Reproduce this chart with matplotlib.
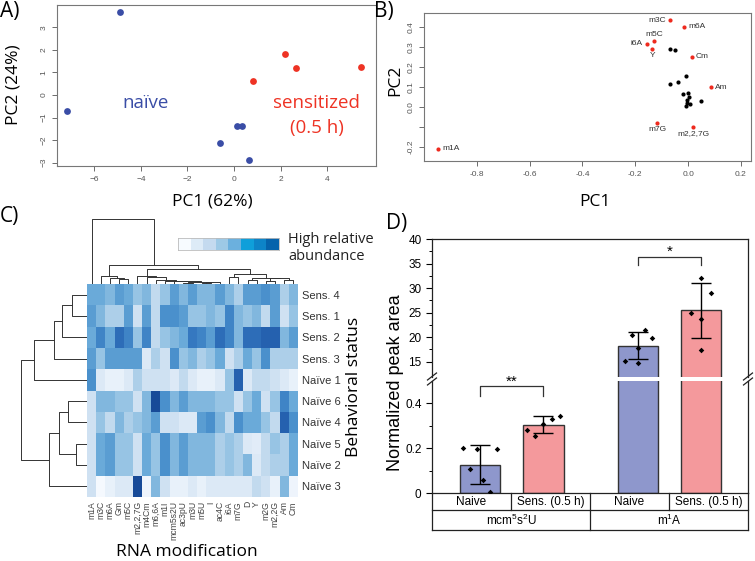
import matplotlib
matplotlib.use("Agg")
import matplotlib.pyplot as plt
import numpy as np
from matplotlib.colors import ListedColormap, LinearSegmentedColormap
from matplotlib.lines import Line2D

# ---------------- data ----------------
# A) PCA of samples
naive_pc1 = [-4.88, -7.15, 0.12, 0.35, -0.58, 0.66]
naive_pc2 = [3.69, -0.71, -1.37, -1.37, -2.13, -2.87]
sens_pc1 = [0.80, 2.21, 2.66, 5.44]
sens_pc2 = [0.62, 1.80, 1.18, 1.24]

# B) loadings
mod_names = ['m3C', 'm6A', 'm5C', 'i6A', 'Y', 'Cm', 'Am', 'm7G', 'm2,2,7G', 'm1A']
mod_pc1 = [-0.069, -0.015, -0.130, -0.156, -0.136, 0.014, 0.086, -0.117, 0.019, -0.946]
mod_pc2 = [0.433, 0.400, 0.330, 0.317, 0.290, 0.250, 0.098, -0.080, -0.100, -0.208]
mod_label_side = ['left', 'right', 'top', 'left', 'bottom', 'right', 'right',
                  'bottom', 'bottom', 'right']
other_pc1 = [-0.069, -0.049, -0.008, -0.037, -0.069, -0.018, 0.000, 0.004,
             -0.006, -0.004, 0.007, -0.008, 0.048]
other_pc2 = [0.290, 0.283, 0.153, 0.123, 0.113, 0.063, 0.072, 0.050,
             0.033, 0.020, 0.013, 0.003, 0.030]

# C) heatmap
col_mods = ['m1A', 'm3C', 'm6A', 'Gm', 'm5C', 'm2,2,7G', 'm4Cm', 'm6,6A', 'm1I',
            'mcm5s2U', 'ac3pU', 'm3U', 'm5U', 'I', 'ac4C', 'i6A', 'm7G', 'D', 'Y',
            'm2G', 'm2,2G', 'Am', 'Cm']
row_status = ['Sens. 4', 'Sens. 1', 'Sens. 2', 'Sens. 3', 'Naïve 1', 'Naïve 6',
              'Naïve 4', 'Naïve 5', 'Naïve 2', 'Naïve 3']
abundance = np.array([
    [4, 4, 3.5, 4.5, 4, 3, 3.5, 2, 3, 4.5, 3.5, 4.5, 3.5, 3.5, 4.5, 3.5, 2.5, 4.5, 4.5, 5, 4.5, 2.5, 3.5],
    [4.5, 3.5, 2.5, 2.5, 4.5, 1.5, 4.5, 2, 5, 5, 4.5, 3, 3, 3.5, 3, 5.5, 3.5, 3, 3.5, 2, 4.5, 1.5, 3],
    [4, 5.5, 4, 6.5, 5.5, 3, 5.5, 2, 3, 3.5, 4, 6, 5.5, 4.5, 6.5, 5.5, 3.5, 6.5, 6.5, 7, 7, 3.5, 4.5],
    [4.5, 3, 4.5, 4.5, 4.5, 4.5, 1, 2.5, 1.5, 5, 3, 3.5, 2.5, 3, 4, 1.5, 2.5, 4, 3, 5, 2.5, 2.5, 2.5],
    [5, 1, 0.5, 0.5, 1, 2.5, 1.5, 1.5, 1.5, 1, 2, 1, 0.5, 0.5, 1, 3, 7, 1, 2, 2, 1.5, 1, 0.5],
    [1.5, 3.5, 3.5, 3, 3, 1.5, 3.5, 8, 5, 3.5, 4.5, 3.5, 3.5, 3.5, 3, 3, 1.5, 3, 4, 1.5, 3, 5.5, 4],
    [1.5, 3, 2, 3.5, 2.5, 3, 3.5, 4.5, 1.5, 1.5, 1, 1, 4.5, 5, 3.5, 2, 5, 4, 4, 3, 2, 7, 5],
    [1.5, 4, 4.5, 3, 3, 1.5, 4, 3, 5, 3.5, 4.5, 3.5, 3.5, 3.5, 2.5, 3, 2.5, 1, 0.8, 2, 3, 2.5, 4],
    [1.5, 4, 4.5, 3, 3, 1.5, 4, 3, 5, 3.5, 4.5, 3.5, 3.5, 3.5, 2.5, 3, 2.5, 3.5, 1, 2, 2.5, 2.5, 4],
    [1.5, 0, 0.5, 1, 1, 8, 0.3, 3.5, 1.5, 0.5, 0.5, 1, 0.5, 1, 1, 1, 1, 1, 2, 1.5, 0.5, 3.5, 0.3],
])
# dendrograms: (left, right, height)
row_tree = (((((0, 1, 15), 2, 25), 3, 33), 4, 53),
            (((5, 6, 19), (7, 8, 11), 28), 9, 38), 66)
col_tree = (0,
            ((1, (2, (3, 4, 4.7), 6.3), 8.0),
             ((5, (6, (7, (8, (9, ((10, 11, 1.5), ((12, 13, 1.2), 14, 1.8), 2.3),
                              2.7), 3.3), 4.0), 6.7), 8.3),
              ((15, 16, 7.3), ((17, 18, 4.0), ((19, 20, 3.0), (21, 22, 4.0), 5.7), 6.3), 9.7),
              14.7),
             19.0),
            65.0)
heat_colors = ['#F5F9FE', '#DCE9F6', '#C2DAEE', '#98C4E4', '#6BAAD9',
               '#4A90CC', '#3579C0', '#2562B0', '#174A98']
scale_colors = ['#F7FBFF', '#DDEBF7', '#C4DAEF', '#9DC9E6', '#6BB0DE',
                '#0F9FDA', '#0D84C8', '#0563AC']

# D) bar chart
conditions = ['Naive', 'Sens. (0.5 h)']
groups = ['mcm$^5$s$^2$U', 'm$^1$A']
mcm_means = [0.127, 0.305]
mcm_sd = [0.087, 0.037]
m1a_means = [18.3, 25.5]
m1a_sd = [2.8, 5.6]
mcm_naive_pts = [0.202, 0.196, 0.198, 0.108, 0.057, 0.004]
mcm_sens_pts = [0.280, 0.253, 0.309, 0.330, 0.344]
m1a_naive_pts = [15.2, 20.5, 17.9, 14.7, 21.5, 19.8]
m1a_sens_pts = [25.0, 32.0, 23.7, 17.3, 29.0]
mcm_naive_jit = [-0.27, -0.05, 0.27, -0.16, 0.05, 0.16]
mcm_sens_jit = [-0.26, -0.13, 0.0, 0.13, 0.26]
m1a_naive_jit = [-0.21, -0.10, 0.0, 0.0, 0.11, 0.22]
m1a_sens_jit = [-0.16, 0.0, 0.0, 0.0, 0.16]

# ---------------- figure ----------------
W, H = 755, 561
plt.rcParams['font.family'] = ['Liberation Sans', 'DejaVu Sans']
plt.rcParams['mathtext.default'] = 'regular'
TITLE_FONT = ['Open Sans', 'DejaVu Sans']

fig = plt.figure(figsize=(W / 100, H / 100), dpi=100)


def px_axes(x0, y0, x1, y1):
    return fig.add_axes([x0 / W, 1 - y1 / H, (x1 - x0) / W, (y1 - y0) / H])


def fig_text(x, y, s, **kw):
    return fig.text(x / W, 1 - y / H, s, **kw)


def r_style(ax):
    for sp in ax.spines.values():
        sp.set_color('#777777')
        sp.set_linewidth(0.8)
    ax.tick_params(labelsize=6, colors='#555555', length=3.5, width=0.6)
    ax.tick_params(axis='y', labelrotation=90)
    for lbl in ax.get_yticklabels():
        lbl.set_va('center')


# panel A
axA = px_axes(57, 5, 376, 166)
axA.scatter(naive_pc1, naive_pc2, s=24, color='#3A4DA6', zorder=3, linewidths=0)
axA.scatter(sens_pc1, sens_pc2, s=24, color='#EE3324', zorder=3, linewidths=0)
axA.set_xlim(-7.6, 6.1)
axA.set_ylim(-3.15, 3.99)
axA.set_xticks(range(-6, 5, 2))
axA.set_yticks(range(-3, 4))
r_style(axA)
axA.text(-3.8, -0.35, 'naïve', color='#3A4DA6', fontsize=13.5, family=TITLE_FONT,
         ha='center', va='center')
axA.text(3.55, -0.35, 'sensitized', color='#EE3324', fontsize=13.5, family=TITLE_FONT,
         ha='center', va='center')
axA.text(3.55, -1.46, '(0.5 h)', color='#EE3324', fontsize=13.5, family=TITLE_FONT,
         ha='center', va='center')
fig_text(212, 202, 'PC1 (62%)', fontsize=12.5, family=TITLE_FONT, ha='center', va='center')
fig_text(13, 85, 'PC2 (24%)', fontsize=12.5, family=TITLE_FONT, ha='center', va='center',
         rotation=90)

# panel B
axB = px_axes(424, 13, 751, 161)
axB.scatter(other_pc1, other_pc2, s=9, color='black', zorder=3, linewidths=0)
axB.scatter(mod_pc1, mod_pc2, s=9, color='#EE2A1E', zorder=3, linewidths=0)
offsets = {'left': (-3, 0, 'right', 'center'), 'right': (3, 0, 'left', 'center'),
           'top': (0, 2.5, 'center', 'bottom'), 'bottom': (0, -2.5, 'center', 'top')}
for name, x, y, side in zip(mod_names, mod_pc1, mod_pc2, mod_label_side):
    dx, dy, ha, va = offsets[side]
    axB.annotate(name, (x, y), xytext=(dx, dy), textcoords='offset points',
                 ha=ha, va=va, fontsize=6, color='#333333')
axB.set_xlim(-1.0, 0.238)
axB.set_ylim(-0.27, 0.47)
axB.set_xticks([-0.8, -0.6, -0.4, -0.2, 0.0, 0.2])
axB.set_xticklabels(['-0.8', '-0.6', '-0.4', '-0.2', '0.0', '0.2'])
axB.set_yticks([-0.2, -0.1, 0.0, 0.1, 0.2, 0.3, 0.4])
axB.set_yticklabels(['-0.2', '', '0.0', '0.1', '0.2', '0.3', '0.4'])
r_style(axB)
fig_text(595, 202, 'PC1', fontsize=12.5, family=TITLE_FONT, ha='center', va='center')
fig_text(395, 80, 'PC2', fontsize=12.5, family=TITLE_FONT, ha='center', va='center',
         rotation=90)

# panel C heatmap
axH = px_axes(87, 284, 298, 497)
nr, nc = abundance.shape
heat_cmap = LinearSegmentedColormap.from_list('heat', heat_colors)
axH.pcolormesh(np.arange(nc + 1), np.arange(nr + 1), abundance, cmap=heat_cmap,
               vmin=0, vmax=8)
axH.set_xlim(0, nc)
axH.set_ylim(nr, 0)
axH.set_xticks(np.arange(nc) + 0.5)
axH.set_xticklabels(col_mods, rotation=90, fontsize=6.2, color='#444444')
axH.set_yticks(np.arange(nr) + 0.5)
axH.set_yticklabels(row_status, fontsize=8, color='#333333')
axH.yaxis.tick_right()
axH.tick_params(length=0, pad=3)
for sp in axH.spines.values():
    sp.set_visible(False)


def draw_tree(ax, node, horizontal=False):
    if isinstance(node, int):
        return node + 0.5, 0.0
    left, right, h = node
    p1, h1 = draw_tree(ax, left, horizontal)
    p2, h2 = draw_tree(ax, right, horizontal)
    ps, hs = [p1, p1, p2, p2], [h1, h, h, h2]
    if horizontal:
        ax.plot(hs, ps, color='#333333', lw=0.7)
    else:
        ax.plot(ps, hs, color='#333333', lw=0.7)
    return (p1 + p2) / 2, h


axRD = px_axes(19, 284, 87, 497)
draw_tree(axRD, row_tree, horizontal=True)
axRD.set_xlim(68, 0)
axRD.set_ylim(nr, 0)
axRD.axis('off')

axCD = px_axes(87, 214, 298, 284)
draw_tree(axCD, col_tree)
axCD.set_xlim(0, nc)
axCD.set_ylim(0, 70)
axCD.axis('off')

axS = px_axes(178, 238, 279, 250)
axS.imshow(np.arange(len(scale_colors))[None, :], cmap=ListedColormap(scale_colors),
           aspect='auto')
axS.set_xticks([])
axS.set_yticks([])
for sp in axS.spines.values():
    sp.set_color('#BBBBBB')
    sp.set_linewidth(0.6)
fig_text(288, 232, 'High relative\nabundance', fontsize=10.5, family=TITLE_FONT,
         ha='left', va='top', linespacing=1.15, color='#222222')
fig_text(187, 552, 'RNA modification', fontsize=12.5, family=TITLE_FONT,
         ha='center', va='center')
fig_text(354, 387, 'Behavioral status', fontsize=12.5, family=TITLE_FONT,
         ha='center', va='center', rotation=90)

# panel D
xpos = [1, 2, 3.5, 4.5]
bar_colors = ['#8E97CC', '#F4999C']
axDt = px_axes(432, 239, 748, 377)
axDb = px_axes(432, 381, 748, 493)
for ax in (axDt, axDb):
    ax.bar(xpos[:2], mcm_means, width=0.64, color=bar_colors, edgecolor='#333333',
           linewidth=1, zorder=2)
    ax.bar(xpos[2:], m1a_means, width=0.64, color=bar_colors, edgecolor='#333333',
           linewidth=1, zorder=2)
    for x, pts, jit in ((xpos[0], mcm_naive_pts, mcm_naive_jit),
                        (xpos[1], mcm_sens_pts, mcm_sens_jit),
                        (xpos[2], m1a_naive_pts, m1a_naive_jit),
                        (xpos[3], m1a_sens_pts, m1a_sens_jit)):
        ax.scatter(x + np.array(jit), pts, marker='D', s=8, color='black', zorder=4,
                   linewidths=0)
    ax.errorbar(xpos[:2], mcm_means, yerr=mcm_sd, fmt='none', ecolor='black',
                elinewidth=1, capsize=7, capthick=1, zorder=3)
    ax.errorbar(xpos[2:], m1a_means, yerr=m1a_sd, fmt='none', ecolor='black',
                elinewidth=1, capsize=7, capthick=1, zorder=3)
    ax.set_xlim(0.235, 5.245)
    ax.set_xticks([])
    for sp in ax.spines.values():
        sp.set_color('#222222')
        sp.set_linewidth(0.9)
    ax.tick_params(axis='y', labelsize=8.5, length=4, width=0.8, direction='out')
    ax.tick_params(axis='y', which='minor', length=2.5, width=0.7)

axDt.set_ylim(11.9, 40)
axDt.set_yticks([15, 20, 25, 30, 35, 40])
axDt.set_yticks([17.5, 22.5, 27.5, 32.5, 37.5], minor=True)
axDt.spines['bottom'].set_visible(False)
axDt.plot([3.5, 3.5, 4.5, 4.5], [34.7, 36.4, 36.4, 34.7], color='#333333', lw=0.9)
axDt.text(4.0, 37.3, '*', ha='center', va='center', fontsize=11)

axDb.set_ylim(0, 0.5)
axDb.set_yticks([0, 0.2, 0.4])
axDb.set_yticklabels(['0', '0.2', '0.4'])
axDb.set_yticks([0.1, 0.3], minor=True)
axDb.spines['top'].set_visible(False)
axDb.plot([1, 1, 2, 2], [0.435, 0.477, 0.477, 0.435], color='#333333', lw=0.9,
          clip_on=False)
axDb.text(1.5, 0.497, '**', ha='center', va='center', fontsize=11)

# broken-axis marks
for xb in (432, 748):
    for yb in (376.5, 381.5):
        fig.add_artist(Line2D([(xb - 4.5) / W, (xb + 4.5) / W],
                              [1 - (yb + 3.5) / H, 1 - (yb - 3.5) / H],
                              color='#222222', lw=0.9))

# category table under the bars
axT = px_axes(432, 493, 748, 529.5)
axT.set_xlim(0, 4)
axT.set_ylim(36.5, 0)
axT.axis('off')
lk = dict(color='#222222', lw=0.9, clip_on=False)
axT.plot([0, 4], [17, 17], **lk)
axT.plot([0, 4], [36.5, 36.5], **lk)
for xv in (0, 2, 4):
    axT.plot([xv, xv], [0, 36.5], **lk)
for xv in (1, 3):
    axT.plot([xv, xv], [0, 17], **lk)
for i in range(4):
    axT.text(i + 0.5, 8.7, conditions[i % 2], ha='center', va='center', fontsize=8.5)
for i, g in enumerate(groups):
    axT.text(2 * i + 1, 27, g, ha='center', va='center', fontsize=8.5)
fig_text(396, 383, 'Normalized peak area', fontsize=13, ha='center', va='center',
         rotation=90)

# panel letters
for s, x, y in (('A)', 0, 12), ('B)', 374, 12), ('C)', 0, 217), ('D)', 386, 223)):
    fig_text(x, y, s, fontsize=15, family=TITLE_FONT, ha='left', va='center')

fig.savefig('out.png', dpi=100)
